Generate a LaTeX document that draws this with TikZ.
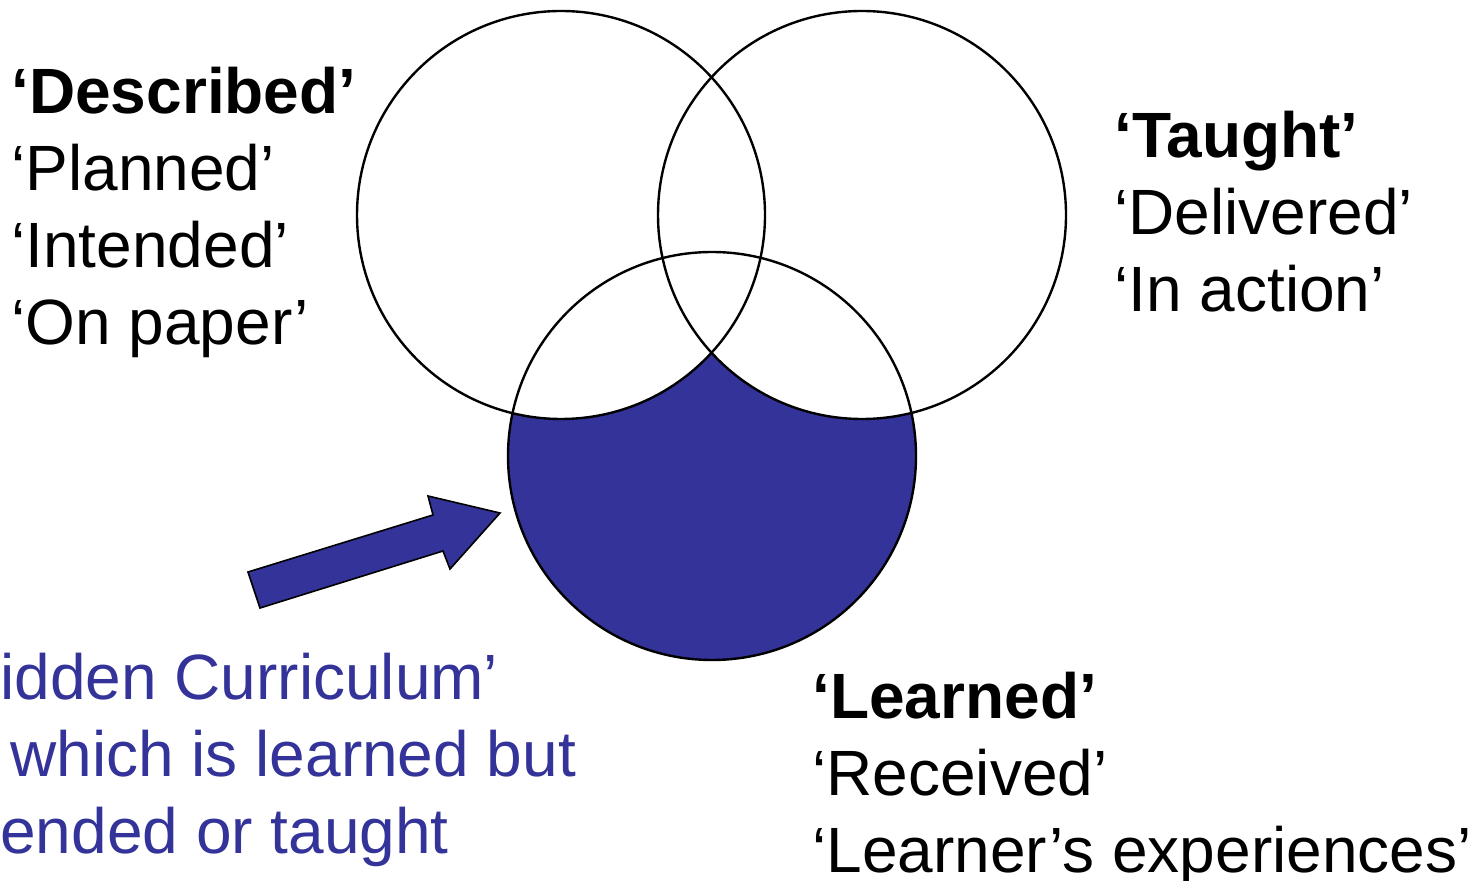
\documentclass[tikz,border=0pt]{standalone}
\usepackage{fontspec}
\setmainfont{Liberation Sans}
\usetikzlibrary{positioning}
\definecolor{hiddenblue}{RGB}{51,51,153}

\begin{document}
\begin{tikzpicture}[x=0.5pt, y=-0.5pt,
  ring/.style={draw=black, line width=1.2pt},
  curtext/.style={anchor=base west, align=left, inner sep=0pt, font=\fontsize{32}{38.5}\selectfont}]

\useasboundingbox (0,0) rectangle (1481,881);

\coordinate (cdesc) at (561,215);
\coordinate (ctaught) at (862,215);
\coordinate (clearn) at (712,456);

% hidden part of the learned circle
\fill[hiddenblue] (clearn) circle (204);
\fill[white] (cdesc) circle (204);
\fill[white] (ctaught) circle (204);

\draw[ring] (cdesc) circle (204);
\draw[ring] (ctaught) circle (204);
\draw[ring] (clearn) circle (204);

% block arrow
\draw[fill=hiddenblue, line width=0.8pt, line join=miter]
  (248,572) -- (433,515) -- (428,496) -- (500,513) -- (450,569) -- (443,551) -- (260,608) -- cycle;

% base anchor sits on the last line
\node[curtext] (described) at (11,345) {\textbf{`Described'}\\`Planned'\\`Intended'\\`On paper'};

\node[curtext] (taught) at (1114,312) {\textbf{`Taught'}\\`Delivered'\\`In action'};

\node[curtext] (learned) at (812,872) {\textbf{`Learned'}\\`Received'\\`Learner's experiences'};

\node[curtext, text=hiddenblue] (hidden) at (0,853) {idden Curriculum'\\\hspace{5pt}which is learned but\\ended or taught};

\end{tikzpicture}
\end{document}
